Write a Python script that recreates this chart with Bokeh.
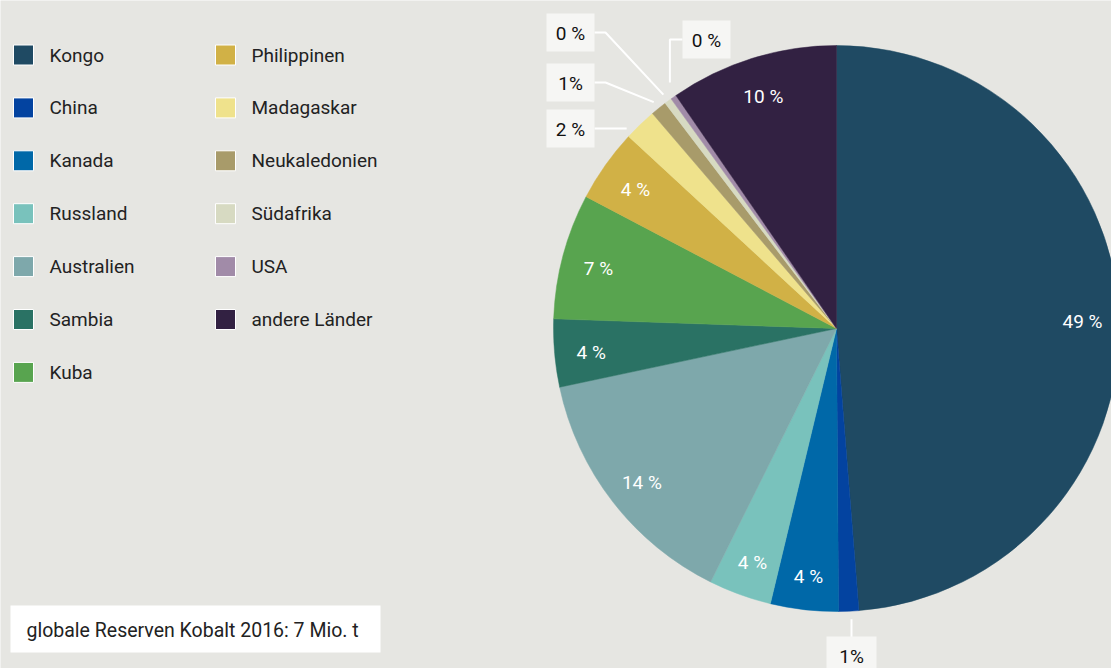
import numpy as np
from bokeh.plotting import figure
from bokeh.models import Range1d, ColumnDataSource
from bokeh.core.properties import value
from bokeh.embed import file_html
from bokeh.resources import INLINE

# ---- data ----
countries = ["Kongo", "China", "Kanada", "Russland", "Australien", "Sambia", "Kuba",
             "Philippinen", "Madagaskar", "Neukaledonien", "Südafrika", "USA", "andere Länder"]
reserves_kt = [3400, 80, 270, 250, 1000, 270, 500, 290, 130, 64, 29, 23, 670]
pct_labels = ["49 %", "1%", "4 %", "4 %", "14 %", "4 %", "7 %", "4 %", "2 %", "1%", "0 %", "0 %", "10 %"]
colors = ["#1f4a63", "#0343a0", "#0068a8", "#79c2bc", "#7ea8ab", "#2a7264", "#58a44f",
          "#d1b146", "#efe28c", "#a89b6a", "#d7dac2", "#a18ba8", "#322142"]
inside = [True, False, True, True, True, True, True, True, False, False, False, False, True]
footnote = "globale Reserven Kobalt 2016: 7 Mio. t"

BG = "#e6e6e2"
FONT = "Roboto"
W, H = 1111, 668

def Y(y):  # reference pixel row -> data y
    return H - y

p = figure(width=W, height=H, output_backend="svg", toolbar_location=None,
           x_range=Range1d(0, W), y_range=Range1d(0, H), min_border=0)
p.axis.visible = False
p.grid.visible = False
p.outline_line_color = None
p.background_fill_color = BG
p.border_fill_color = BG

# ---- pie ----
cx, cy, R = 836, Y(328), 283
vals = np.array(reserves_kt, dtype=float)
frac = vals / vals.sum()
cum = np.concatenate([[0], np.cumsum(frac)])
start = np.pi / 2 - 2 * np.pi * cum[:-1]
end = np.pi / 2 - 2 * np.pi * cum[1:]
mid = (start + end) / 2
src = ColumnDataSource(dict(start=start, end=end, color=colors))
p.wedge(x=cx, y=cy, radius=R, start_angle="start", end_angle="end", direction="clock",
        fill_color="color", line_color="color", line_width=0.5, source=src)

# inside labels
ins = [i for i in range(len(countries)) if inside[i]]
rl = 0.87 * R
p.text(x=[cx + rl * np.cos(mid[i]) for i in ins], y=[cy + rl * np.sin(mid[i]) - 3 for i in ins],
       text=[pct_labels[i] for i in ins], text_color="white", text_font=value(FONT),
       text_font_size="19px", text_align="center", text_baseline="middle")

# callouts: (index, box centre x, box centre y_ref, box width, mode)
callouts = [(10, 570, 32, 48, "left"), (11, 706, 39, 48, "right"),
            (9, 570, 82, 48, "left"), (8, 570, 128, 48, "left"), (1, 851, 655, 50, "below")]
bx, by, bw, bh, bt = [], [], [], [], []
for idx, bxc, byr, w, mode in callouts:
    ex = cx + (R + 8) * np.cos(mid[idx])
    ey = cy + (R + 8) * np.sin(mid[idx])
    if mode == "left":
        x0 = bxc + w / 2
        if idx == 8:
            xs, ys = [x0, ex - 8], [Y(byr), Y(byr)]
        else:
            xs, ys = [x0, x0 + 11, ex], [Y(byr), Y(byr), ey]
    elif mode == "right":
        x0 = bxc - w / 2
        xs, ys = [x0, ex + 1, ex + 1], [Y(byr), Y(byr), ey + 8]
    else:
        xs, ys = [bxc, bxc], [ey, Y(byr) + 18]
    p.line(xs, ys, line_color="white", line_width=2)
    bx.append(bxc); by.append(Y(byr)); bw.append(w); bh.append(38); bt.append(pct_labels[idx])
p.rect(x=bx, y=by, width=bw, height=bh, fill_color="#f6f6f4", line_color=None)
p.text(x=bx, y=[v - 1 for v in by], text=bt, text_color="#111111", text_font=value(FONT),
       text_font_size="19px", text_align="center", text_baseline="middle")

# ---- legend ----
n1 = 7
lx, ly, tx = [], [], []
for i, name in enumerate(countries):
    col, row = (0, i) if i < n1 else (1, i - n1)
    sx = 23 + col * 202
    sy = Y(54.5 + row * 52.9)
    lx.append(sx); ly.append(sy); tx.append(sx + 26)
p.rect(x=lx, y=ly, width=20, height=20, fill_color=colors, line_color="white", line_width=1)
p.text(x=tx, y=ly, text=countries, text_color="#222222", text_font=value(FONT),
       text_font_size="19px", text_align="left", text_baseline="middle")

# ---- footnote ----
p.rect(x=[195], y=[Y(628.5)], width=370, height=47, fill_color="white", line_color=None)
p.text(x=[26], y=[Y(630)], text=[footnote], text_color="#222222", text_font=value(FONT),
       text_font_size="19.5px", text_align="left", text_baseline="middle")

html = file_html(p, INLINE)
html = html.replace("<body>", '<body style="margin:0;background:%s">' % BG, 1)
open("out.html", "w").write(html)
